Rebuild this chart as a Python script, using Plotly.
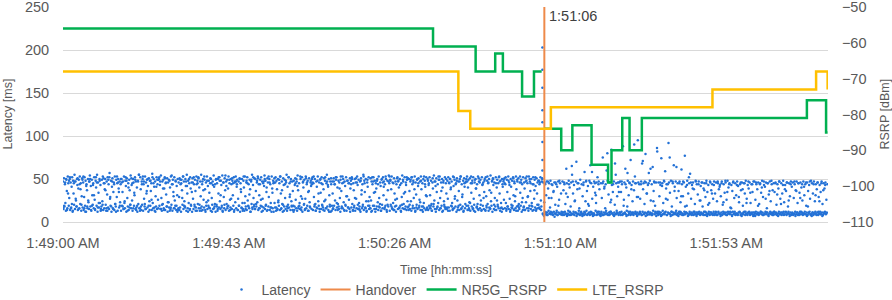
import pandas as pd
import plotly.graph_objects as go

BASE = pd.Timestamp("2021-01-01 01:49:00")

# ---------------- data ----------------
# latency samples (ms), one sample every SAMPLE_INTERVAL_S seconds from 1:49:00
SAMPLE_INTERVAL_S = 0.125
latency_ms = [
    47,15,51,18,44,22,13,49,36,16,53,45,19,28,50,14,46,17,41,52,12,48,33,20,55,15,47,25,18,50,43,14,39,49,16,53,21,45,13,30,
    51,17,46,14,29,52,19,48,12,44,37,16,50,23,15,47,54,18,42,13,49,31,20,45,16,52,26,14,48,40,19,55,12,46,34,17,50,22,43,15,
    18,49,24,53,14,45,16,38,50,20,13,47,32,52,17,44,15,57,27,19,48,12,41,51,16,35,46,14,53,21,18,49,29,45,13,50,39,17,47,23,
    44,13,50,19,35,47,15,53,22,16,48,42,12,51,28,18,45,14,49,37,20,54,16,43,25,13,50,46,19,31,52,15,47,17,40,12,48,21,55,16,
    16,52,38,14,47,20,50,13,44,27,18,53,15,46,33,49,17,42,12,51,24,48,19,36,45,14,56,22,16,50,41,13,47,30,18,52,15,44,26,49,
    50,19,43,15,54,28,13,47,21,49,16,39,52,14,45,32,18,51,12,46,23,17,48,40,15,53,20,44,13,49,35,16,52,25,19,47,14,42,31,50,
    14,46,29,51,17,44,12,49,37,20,53,15,47,24,18,50,42,13,55,33,16,48,22,45,14,52,39,19,46,12,51,27,15,44,20,49,36,17,53,13,
    48,21,52,16,40,13,47,30,55,18,44,14,50,26,17,49,38,12,46,23,53,15,42,19,48,34,16,51,13,45,28,20,47,15,54,41,18,44,12,50,
    20,45,13,50,33,17,52,24,15,48,43,19,54,12,46,29,16,51,37,14,47,21,49,18,39,53,13,45,26,17,50,44,15,48,31,19,52,14,46,23,
    53,16,41,49,14,27,47,19,51,12,45,35,17,50,22,15,48,40,13,53,30,18,46,14,52,25,19,44,16,49,38,12,47,21,55,15,43,28,18,51,
    15,50,36,18,46,23,53,14,44,31,16,49,19,52,12,47,27,45,17,42,54,15,48,20,35,13,51,46,18,29,50,14,44,22,17,53,39,16,48,12,
    46,22,17,52,13,48,38,15,50,25,19,45,14,53,33,16,47,21,12,51,43,18,49,28,15,46,55,13,41,20,52,17,45,32,14,50,24,18,47,36,
    19,48,14,43,51,26,16,47,13,54,37,18,45,22,15,50,30,17,52,12,46,40,20,49,14,27,53,16,44,19,48,35,13,51,23,17,46,42,15,50,
    52,14,45,29,18,50,21,13,47,41,16,53,24,19,46,12,49,34,15,52,20,44,17,38,51,13,48,26,16,45,55,18,43,14,50,31,20,47,12,44,
    13,47,33,16,51,19,44,25,14,49,52,17,40,21,48,15,46,28,12,53,36,18,45,16,50,23,14,47,42,19,52,13,30,48,17,45,26,15,51,39,
    48,17,52,21,14,45,37,19,50,13,46,27,16,53,43,15,49,22,18,47,12,51,32,16,44,20,55,14,48,35,17,50,24,13,46,41,19,52,15,29,
    16,51,25,47,13,44,19,52,34,15,48,12,45,39,18,50,23,14,53,28,17,46,42,13,49,20,16,52,31,47,15,44,19,50,26,12,48,37,18,54,
    45,13,49,20,38,53,16,46,22,14,51,33,18,47,12,44,27,52,15,48,40,17,50,19,13,45,29,54,16,47,21,15,52,35,18,43,14,49,24,51,
    18,50,36,15,47,24,13,52,44,19,48,28,16,53,12,46,32,20,49,15,42,51,17,26,47,14,53,38,18,45,12,50,22,16,48,41,14,52,30,17,
    50,14,43,19,52,31,16,48,21,13,46,39,18,54,25,15,47,12,51,35,17,44,22,49,14,53,28,16,46,19,50,40,13,48,24,18,52,15,45,33,
    15,48,27,52,17,45,13,50,38,19,47,22,14,53,42,16,49,30,18,45,12,51,25,17,47,36,14,50,20,53,15,44,29,18,48,13,51,41,16,46,
    47,19,53,14,40,49,16,23,51,13,45,34,18,48,15,52,27,20,46,12,50,39,17,44,21,53,14,47,31,16,49,25,13,52,43,19,46,15,35,50,
    14,52,30,17,48,21,45,13,50,37,16,54,24,19,47,12,51,43,15,46,28,18,52,14,40,49,20,45,16,53,33,13,48,22,17,50,44,15,47,26,
    51,16,44,22,13,49,35,18,53,15,46,27,12,50,41,17,48,19,52,31,14,45,24,16,53,38,18,47,13,51,21,15,46,34,19,49,12,44,28,52,
    17,46,39,14,51,23,48,16,45,30,13,53,19,47,36,15,50,22,18,44,52,14,27,49,17,42,13,51,33,46,16,20,48,44,15,52,25,18,47,50,
    10,46,8,23,12,44,9,31,47,11,8,39,13,45,10,17,48,9,28,11,43,8,35,12,46,10,20,9,44,13,41,8,47,11,26,10,45,9,33,12,
    9,47,11,37,8,44,12,21,10,62,45,9,29,13,48,8,40,11,18,46,10,55,9,33,12,43,8,25,11,47,70,10,38,9,45,13,16,8,49,11,
    12,44,9,30,10,46,8,58,11,24,47,13,36,9,42,10,19,48,8,66,12,45,11,27,9,41,10,47,8,34,13,22,46,11,52,9,44,12,38,8,
    10,45,12,28,8,75,47,11,39,9,16,44,13,60,10,48,8,32,11,46,9,23,12,84,43,10,35,8,47,11,20,9,55,45,13,30,10,41,8,46,
    11,47,9,35,12,44,8,88,10,26,46,11,62,9,40,13,18,48,8,31,10,45,12,72,9,43,11,24,47,8,37,10,53,12,45,9,29,11,95,46,
    9,44,11,27,10,47,8,68,12,38,45,9,21,11,79,46,10,33,8,43,12,57,9,48,11,25,10,44,8,64,13,36,47,9,19,11,46,10,86,12,
    10,46,12,30,9,43,11,74,8,45,13,22,10,47,9,59,12,39,44,8,26,11,92,46,10,34,9,48,12,18,8,45,11,66,10,41,9,47,13,28,
    8,45,10,36,12,47,9,23,11,61,44,10,30,8,46,12,77,9,41,11,19,48,10,33,8,45,12,56,9,27,11,43,10,46,8,38,12,21,9,47,
    11,44,9,32,10,47,12,25,8,42,11,46,9,18,10,39,12,45,8,29,11,48,9,35,10,43,12,22,8,46,11,37,9,44,10,27,12,47,8,33,
    9,46,11,24,8,45,12,38,10,43,9,30,11,47,8,20,12,44,10,34,9,46,11,26,8,48,12,40,10,45,9,17,11,43,8,36,12,47,10,28,
    12,45,8,31,10,47,9,42,11,23,12,44,8,37,10,46,9,19,11,45,12,33,8,48,10,27,9,43,11,39,12,46,8,22,10,44,9,35,11,47,
    8,47,10,26,12,44,9,38,11,46,8,21,10,45,12,34,9,48,11,29,8,43,10,41,12,46,9,16,11,45,8,32,10,47,12,24,9,44,11,37,
    10,45,12,35,9,46,11,20,8,44,10,39,12,47,9,27,11,45,8,33,10,48,12,23,9,43,11,36,8,46,10,18,12,45,9,30,11,47,8,41,
    11,46,8,28,10,44,12,37,9,47,11,22,8,45,10,34,12,46,9,40,11,25,8,47,10,31,12,44,9,19,11,46,8,36,10,43,12,27,9,48,
    9,45,11,33,8,47,10,24,12,44,9,38,11,46,8,29,10,43,12,35,9,47,11,21,8,45,10,39,12,46,9,26,11,44,
]
# second interleaved set of latency samples (every 0.25 s, starting 0.0625 s after 1:49:00)
EXTRA_INTERVAL_S = 0.25
EXTRA_OFFSET_S = 0.0625
latency_extra_ms = [
    17,19,46,50,14,33,48,52,16,21,13,45,47,27,18,51,15,44,38,20,
    49,53,16,12,42,18,25,47,50,14,19,43,31,15,52,46,17,22,48,13,
    14,20,51,45,37,16,13,49,52,29,18,47,15,44,21,12,53,46,35,19,
    50,46,18,15,24,52,48,13,40,17,20,51,45,16,34,49,14,19,47,55,
    13,18,44,53,47,21,15,36,50,19,14,48,26,52,45,17,12,41,49,16,
    52,47,15,20,39,14,51,46,18,23,49,13,17,54,44,30,16,48,19,12,
    16,14,49,45,28,53,19,17,47,42,12,50,15,20,35,46,52,18,13,44,
    45,51,20,16,13,47,37,53,14,19,48,25,17,45,50,12,43,16,21,49,
    18,15,52,48,31,17,13,46,20,54,42,16,19,49,14,27,51,45,12,47,
    47,44,14,19,50,38,16,13,53,22,15,48,45,18,32,12,49,17,52,20,
    15,21,48,51,16,44,26,18,13,47,50,19,40,14,53,46,17,12,34,45,
    51,46,17,14,23,49,53,15,37,20,13,44,48,18,16,52,29,47,19,14,
    12,18,45,50,42,16,19,53,14,27,47,21,15,51,46,13,36,18,48,44,
    46,53,20,13,17,48,33,15,50,45,19,14,24,52,16,47,41,12,18,51,
    19,15,47,44,52,22,14,18,39,49,16,53,46,13,20,30,48,17,45,12,
    44,50,13,17,28,51,46,20,15,14,48,37,18,53,45,16,12,49,24,19,
    16,12,52,47,19,35,15,48,44,18,21,13,50,46,41,17,53,14,20,47,
    53,48,18,15,45,14,26,19,51,47,16,43,12,20,49,33,15,46,52,17,
    14,20,49,52,16,46,38,13,17,50,45,19,23,48,14,18,53,44,31,15,
    48,45,16,19,13,51,21,47,42,15,18,53,49,16,36,12,46,20,17,50,
    17,13,46,50,40,18,15,52,27,44,48,14,19,47,53,16,32,12,45,21,
    50,47,19,14,22,53,45,16,13,49,39,18,15,51,46,20,14,44,28,48,
    13,19,53,46,17,15,34,48,50,20,14,45,25,18,52,47,16,12,41,49,
    45,52,15,18,48,43,14,20,16,51,47,30,13,49,19,17,53,46,23,14,
    18,14,47,53,29,16,50,45,19,13,44,37,52,15,20,48,17,46,14,51,
    9,7,45,11,8,47,28,10,12,44,9,36,6,46,11,8,19,48,10,9,
    8,11,46,9,33,7,10,44,12,8,65,47,9,24,11,7,45,10,39,8,
    10,7,43,12,9,48,8,21,11,46,9,58,7,10,45,31,8,12,47,9,
    7,10,45,8,41,11,9,80,47,8,12,26,10,44,7,68,9,11,46,35,
    11,8,47,9,19,10,44,7,57,12,46,8,38,9,11,90,45,10,7,29,
    9,12,44,8,71,10,47,7,33,11,45,9,62,8,10,24,46,12,7,82,
    8,10,46,7,42,9,48,11,27,8,44,10,75,7,12,47,9,36,11,64,
    10,7,45,12,30,8,47,9,18,11,43,7,52,10,46,8,39,12,9,48,
    7,11,44,9,25,10,46,8,37,12,45,7,20,9,47,11,33,8,43,10,
    12,8,47,10,41,7,45,9,23,11,48,8,35,10,44,12,16,7,46,9,
    9,10,43,8,29,11,46,7,38,9,45,12,22,8,47,10,34,11,44,7,
    11,7,46,9,19,10,44,12,40,8,47,9,27,11,45,7,36,10,48,8,
    8,12,45,10,32,7,47,9,21,11,43,8,38,12,46,10,25,7,44,9,
    10,9,47,7,36,11,45,8,28,12,44,10,41,9,46,7,18,11,47,8,
    7,11,44,10,31,8,46,12,24,9,45,7,37,11,43,10,
]
# latency burst recorded at the handover instant
burst_t_s = 124.9
burst_ms = [203, 177, 156, 130, 116, 93, 72, 60]

# handover instant (seconds after 1:49:00) and its label
handover_s = 125.4
handover_label = "1:51:06"

# NR5G RSRP steps (seconds after 1:49:00, dBm)
nr5g_t_s = [0, 96.4, 107.5, 112.6, 114.6, 119.6, 122.7, 124.7, 124.7, 125.5, 129.8,
            132.7, 137.7, 142.0, 142.9, 145.7, 147.6, 150.8, 193.8, 198.8, 199.2]
nr5g_dbm = [-56, -61, -68, -63, -68, -75, -68, -68, None, -84, -90,
            -83, -94, -99, -90, -81, -90, -81, -76, -85, -85]

# LTE RSRP steps
lte_t_s = [0, 103.0, 106.1, 127.1, 169.2, 196.2, 199.2]
lte_dbm = [-68, -79, -84, -78, -73, -68, -73]

# x axis ticks (Excel major unit 43.2 s)
tick_s = [0, 43.2, 86.4, 129.6, 172.8]
tick_labels = ["1:49:00 AM", "1:49:43 AM", "1:50:26 AM", "1:51:10 AM", "1:51:53 AM"]
x_end_s = 199.3


def ts(secs):
    return [BASE + pd.Timedelta(seconds=s) for s in secs]


lat_t = (ts([i * SAMPLE_INTERVAL_S for i in range(len(latency_ms))])
         + ts([EXTRA_OFFSET_S + i * EXTRA_INTERVAL_S for i in range(len(latency_extra_ms))])
         + ts([burst_t_s] * len(burst_ms)))
lat_v = latency_ms + latency_extra_ms + burst_ms

FONT = "Liberation Sans"
GREY = "#595959"

fig = go.Figure()
fig.add_trace(go.Scatter(
    x=lat_t, y=lat_v, mode="markers", name="Latency",
    marker=dict(size=2.5, color="#2371D6", line=dict(width=0)),
))
fig.add_trace(go.Scatter(
    x=ts([handover_s, handover_s]), y=[0, 250], mode="lines", name="Handover",
    line=dict(color="#EE8A4A", width=2),
))
fig.add_trace(go.Scatter(
    x=ts(nr5g_t_s), y=nr5g_dbm, mode="lines", name="NR5G_RSRP", yaxis="y2",
    line=dict(color="#00B050", width=2.5, shape="hv"), connectgaps=False,
))
fig.add_trace(go.Scatter(
    x=ts(lte_t_s), y=lte_dbm, mode="lines", name="LTE_RSRP", yaxis="y2",
    line=dict(color="#FFC000", width=2.5, shape="hv"),
))

fig.update_layout(
    width=892, height=300,
    margin=dict(l=63, r=64, t=7, b=78, autoexpand=False),
    paper_bgcolor="white", plot_bgcolor="white",
    font=dict(family=FONT, size=14, color=GREY),
    showlegend=True,
    legend=dict(orientation="h", x=0.5, xanchor="center", y=-0.316, yanchor="middle",
                font=dict(size=14, color=GREY), itemwidth=30, tracegroupgap=0),
    xaxis=dict(
        type="date", range=ts([0, x_end_s]), automargin=False,
        tickvals=ts(tick_s), ticktext=tick_labels,
        showgrid=False, zeroline=False, showline=True, linecolor="#D9D9D9", linewidth=1,
        ticks="outside", ticklen=8, tickcolor="rgba(0,0,0,0)",
        tickfont=dict(size=14.5, color=GREY), ticklabeloverflow="allow",
    ),
    yaxis=dict(
        range=[0, 250], dtick=50, showgrid=True, gridcolor="#D9D9D9", gridwidth=1,
        zeroline=False, showline=False, automargin=False,
        ticks="outside", ticklen=10, tickcolor="rgba(0,0,0,0)",
        tickfont=dict(size=14.5, color=GREY), ticklabeloverflow="allow",
    ),
    yaxis2=dict(
        overlaying="y", side="right", range=[-110, -50], dtick=10,
        showgrid=False, zeroline=False, showline=False, automargin=False,
        ticks="outside", ticklen=10, tickcolor="rgba(0,0,0,0)",
        tickfont=dict(size=14.5, color=GREY), ticklabeloverflow="allow",
    ),
    annotations=[
        dict(text="Time [hh:mm:ss]", xref="paper", yref="paper", x=0.5, y=-0.224,
             xanchor="center", yanchor="middle", showarrow=False,
             font=dict(size=12.5, color=GREY)),
        dict(text="Latency [ms]", xref="paper", yref="paper", x=(7 - 63) / 765, y=0.5,
             xanchor="center", yanchor="middle", textangle=-90, showarrow=False,
             font=dict(size=12.5, color=GREY)),
        dict(text="RSRP [dBm]", xref="paper", yref="paper", x=(884 - 63) / 765, y=0.5,
             xanchor="center", yanchor="middle", textangle=-90, showarrow=False,
             font=dict(size=12.5, color=GREY)),
        dict(text=handover_label, x=ts([handover_s])[0], xref="x", yref="paper", y=0.96,
             xanchor="left", yanchor="middle", xshift=3, showarrow=False,
             font=dict(size=14.5, color="#404040")),
    ],
)

fig.write_html("out.html", config={"displayModeBar": False},
               post_script="document.body.style.margin='0';document.body.style.padding='0';")
